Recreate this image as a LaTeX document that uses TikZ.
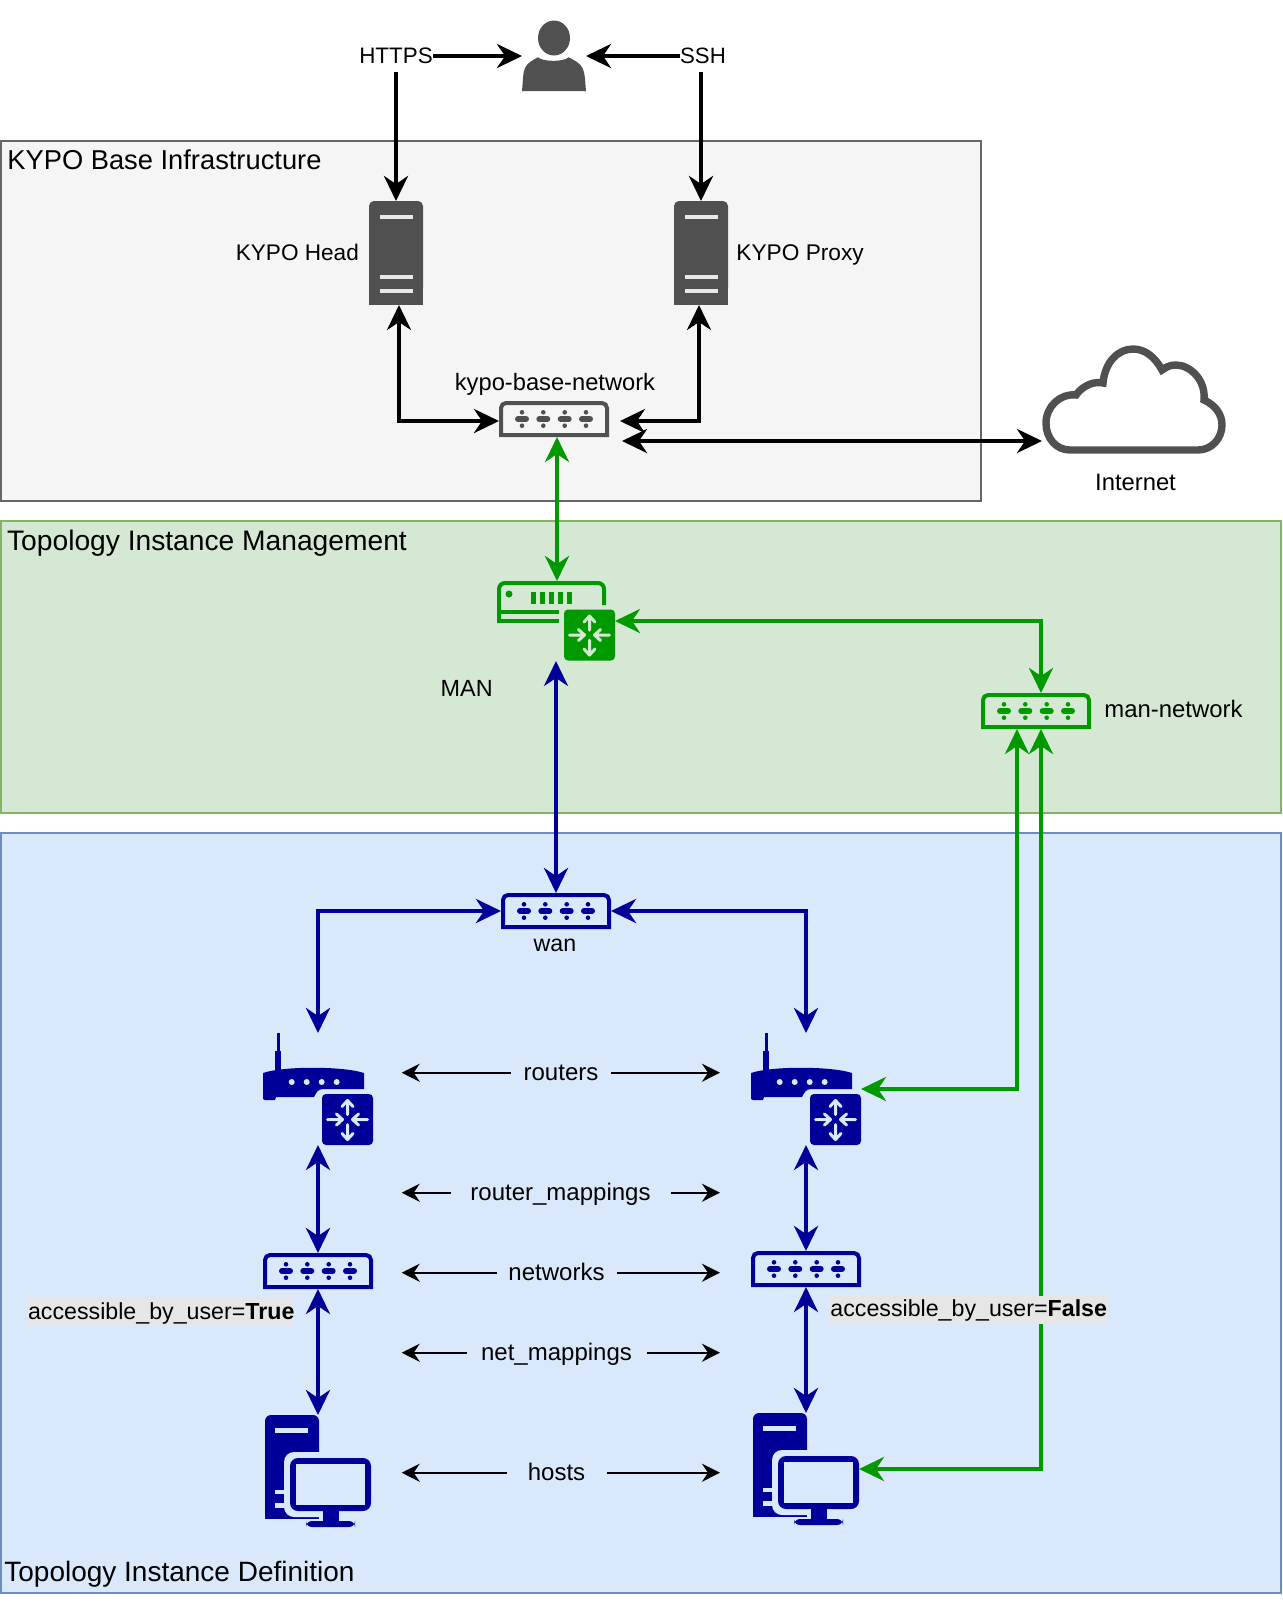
\documentclass[tikz,border=0pt]{standalone}
\usepackage{fontspec}
\setmainfont{Liberation Sans}
\usetikzlibrary{arrows.meta,calc}
\definecolor{iconGrey}{HTML}{505050}
\definecolor{iconGreen}{HTML}{009900}
\definecolor{iconBlue}{HTML}{000099}
\definecolor{baseFill}{HTML}{F5F5F5}
\definecolor{baseLine}{HTML}{666666}
\definecolor{manFill}{HTML}{D5E8D4}
\definecolor{manLine}{HTML}{82B366}
\definecolor{defFill}{HTML}{DAE8FC}
\definecolor{defLine}{HTML}{6C8EBF}
\definecolor{hiFill}{HTML}{E6E6E6}
\colorlet{iconbg}{baseFill}
\tikzset{
  x=0.5pt,y=-0.5pt,
  zone/.style={line width=1pt,draw=#1},
  iconbox/.style 2 args={inner sep=0pt,outer sep=0pt,minimum width=#1*0.5pt,minimum height=#2*0.5pt},
  lbl/.style={inner sep=0pt,font=\fontsize{#1}{14pt}\selectfont,text=black},
  lbl/.default=11.9pt,
  ttl/.style={inner sep=0pt,font=\fontsize{#1}{17pt}\selectfont,text=black,anchor=base west},
  midtext/.style={text height=7.3pt,text depth=0pt},
  gaplbl/.style={lbl=12pt,midtext,outer sep=0pt,minimum width=#1*0.5pt,minimum height=10pt},
  hi/.style={lbl=11.6pt,fill=hiFill,text height=10.5pt,text depth=3.5pt,anchor=base west},
  conn/.style={line width=2pt,draw=#1,{Stealth[length=12.5pt,width=12pt,inset=4pt]}-{Stealth[length=12.5pt,width=12pt,inset=4pt]}},
  conn1/.style={line width=2pt,draw=#1,-{Stealth[length=12.5pt,width=12pt,inset=4pt]}},
  thinarr/.style={line width=1pt,draw=black,-{Stealth[length=9pt,width=9pt,inset=3pt]}},
  pics/swic/.style={code={
    \draw[line width=2pt,#1] (-53,16) [rounded corners=2.5pt] -- (-53,-16) -- (53,-16) [sharp corners] -- (53,16) -- cycle;
    \foreach \mx in {-32,-10.7,10.7,32}{
      \draw[#1,line width=3pt,line cap=round] (\mx-4,0) -- (\mx+4,0);
      \fill[#1] (\mx,-6.7) circle[radius=2.3];
      \fill[#1] (\mx,6.7) circle[radius=2.3];
    }
  }},
  pics/sqic/.style={code={
    \fill[#1,rounded corners=2pt] (-25.5,-25.5) rectangle (25.5,25.5);
    \begin{scope}[iconbg,line width=1.5pt,line cap=round,line join=round]
      \draw (0,-5) -- (0,-19) (-5.5,-13) -- (0,-19) -- (5.5,-13);
      \draw (0,5) -- (0,20) (-5.5,14) -- (0,20) -- (5.5,14);
      \draw (-20,0) -- (-5,0) (-11,-5.5) -- (-5,0) -- (-11,5.5);
      \draw (20,0) -- (5,0) (11,-5.5) -- (5,0) -- (11,5.5);
    \end{scope}
  }},
}
\begin{document}
\begin{tikzpicture}
\useasboundingbox (0,0) rectangle (1282,1614);
\fill[white] (0,0) rectangle (1282,1614);
% zones
\node[zone=baseLine,fill=baseFill,iconbox={980}{360},anchor=north west] (zb) at (1,141) {};
\node[zone=manLine,fill=manFill,iconbox={1280}{292},anchor=north west] (zm) at (1,521) {};
\node[zone=defLine,fill=defFill,iconbox={1280}{760},anchor=north west] (zd) at (1,833) {};
\node[ttl=13.65pt] (tb) at (7,169.3) {KYPO Base Infrastructure};
\node[ttl=14.1pt] (tm) at (6.7,550) {Topology Instance Management};
\node[ttl=14pt] (td) at (4,1581.7) {Topology Instance Definition};
% anchors of icons
\node[iconbox={64}{70}] (user) at (554,56) {};
\node[iconbox={54}{104}] (hd) at (396,253) {};
\node[iconbox={54}{104}] (px) at (701,253) {};
\node[iconbox={110}{36}] (bsw) at (554,419) {};
\node[iconbox={184}{109}] (cld) at (1134,399.5) {};
\node[iconbox={118}{80}] (manrt) at (556,621) {};
\node[iconbox={110}{36}] (mansw) at (1036,711) {};
\node[iconbox={110}{36}] (wan) at (556,911) {};
\node[iconbox={110}{112}] (rt1) at (318,1089) {};
\node[iconbox={110}{112}] (rt2) at (806,1089) {};
\node[iconbox={110}{36}] (sw1) at (318,1271) {};
\node[iconbox={110}{36}] (sw2) at (806,1269) {};
\node[iconbox={106}{112}] (pc1) at (318,1471) {};
\node[iconbox={106}{112}] (pc2) at (806,1469) {};
% user
\fill[iconGrey] (554,38) ellipse[x radius=16,y radius=17.5];
\fill[iconGrey] (522,91) .. controls (523,80) and (523,72) .. (525,68) .. controls (527,63) and (533,60) .. (538,57.3) .. controls (543,62) and (564,62) .. (568.5,57.3) .. controls (574,60) and (580,63) .. (582.5,68) .. controls (585,73) and (585,80) .. (586,91) -- cycle;
% servers
\foreach \n in {hd,px}{
  \begin{scope}[shift={(\n)}]
    \fill[iconGrey,rounded corners=2.5pt] (-27,-52) rectangle (27,40);
    \fill[iconGrey] (-27,0) rectangle (27,52);
    \foreach \my in {-36.3,24.3,37.7} \fill[baseFill!92!iconGrey] (-16.5,\my-2) rectangle (16.5,\my+2);
  \end{scope}
}
% cloud
\draw[iconGrey,line width=3.7pt,miter limit=3] (1070,450) -- (1198,450) .. controls (1212,450) and (1222,438) .. (1222,425) .. controls (1222,414) and (1215,405) .. (1204,400) .. controls (1206,380) and (1190,365) .. (1176,365) .. controls (1170,365) and (1166,367) .. (1162,370) .. controls (1155,357) and (1145,349) .. (1133,349) .. controls (1118,349) and (1105,362) .. (1103,383) .. controls (1095,381) and (1083,385) .. (1076,395) .. controls (1060,393) and (1046,407) .. (1046,423) .. controls (1046,438) and (1056,450) .. (1070,450) -- cycle;
% switches
\pic at (bsw) {swic=iconGrey};
\pic at (mansw) {swic=iconGreen};
\pic at (wan) {swic=iconBlue};
\pic at (sw1) {swic=iconBlue};
\pic at (sw2) {swic=iconBlue};
% MAN router
\colorlet{iconbg}{manFill}
\draw[iconGreen,line width=2pt] (499,623) [rounded corners=3pt] -- (499,583) -- (604,583) [sharp corners] -- (604,605);
\draw[iconGreen,line width=2pt] (498,611.5) -- (559,611.5) (498,621) -- (559,621);
\fill[iconGreen] (509,594) circle[radius=3.5];
\foreach \vx in {533.3,542.3,551.3,560.3,569.3} \fill[iconGreen] (\vx-2.2,592) rectangle (\vx+2.2,604);
\pic at (589.5,635) {sqic=iconGreen};
% wifi routers and hosts
\colorlet{iconbg}{defFill}
\foreach \n in {rt1,rt2}{
  \begin{scope}[shift={(\n)}]
    \fill[iconBlue] (-55,-16) .. controls (-35,-23) and (25,-23) .. (46,-16) -- (46,0) -- (5,0) .. controls (0,0) and (-2,4) .. (-4,8) -- (-42,8) -- (-43,11) -- (-53,11) .. controls (-54.5,11) and (-55,10) .. (-55,9) -- cycle;
    \fill[iconBlue] (-43,-38) rectangle (-37,-19);
    \fill[iconBlue] (-41.5,-56) rectangle (-38.5,-36);
    \foreach \dx in {-26.3,-11.3,3.7,18.7} \fill[iconbg] (\dx,-7) circle[radius=3];
    \pic at (29.5,30.5) {sqic=iconBlue};
  \end{scope}
}
\foreach \n in {pc1,pc2}{
  \begin{scope}[shift={(\n)}]
    \fill[iconBlue,rounded corners=3pt] (-53,-56) rectangle (1,30);
    \fill[iconBlue] (-53,0) rectangle (1,48);
    \fill[iconbg,rounded corners=5pt] (-34,-19) rectangle (60,46);
    \fill[iconBlue,rounded corners=4pt] (-28,-13) rectangle (53,40);
    \fill[iconbg] (-22,-7) rectangle (47,34);
    \fill[iconbg] (-43,-43) rectangle (-10,-38);
    \fill[iconbg] (-43,18.5) rectangle (-30,23);
    \fill[iconbg] (-43,32) rectangle (-30,36.5);
    \fill[iconBlue] (4.7,38) rectangle (21.3,52);
    \fill[iconBlue,rounded corners=3pt] (-12,50) rectangle (37,56);
  \end{scope}
}
% connectors
\node[lbl=11.2pt,midtext,iconbox={74}{32}] (https) at (396,56) {HTTPS};
\node[lbl=11.1pt,midtext,iconbox={46}{32}] (ssh) at (703,56) {SSH};
\draw[conn1=black] (https) -- (user);
\draw[conn1=black] (ssh) -- (user);
\draw[conn1=black] (https) -- (hd);
\draw[conn1=black] ([xshift=-1pt]ssh.south) -- (px.north);
\draw[conn=black] ([xshift=1.5pt]hd.south) |- ([yshift=-1pt]bsw.west);
\draw[conn=black] ([xshift=-1pt]px.south) |- ([xshift=5.5pt,yshift=-1pt]bsw.east);
\draw[conn=black] ([xshift=6.5pt,yshift=-11pt]bsw.east) -- ([yshift=-20.75pt]cld.west);
\draw[conn=iconGreen] ([xshift=1.5pt]bsw.south) -- ([xshift=0.5pt]manrt.north);
\draw[conn=iconGreen] (manrt.east) -| ([xshift=2.5pt]mansw.north);
\draw[conn=iconGreen] ([xshift=-9.5pt]mansw.south) |- (rt2.east);
\draw[conn=iconGreen] ([xshift=2.5pt]mansw.south) |- (pc2.east);
\draw[conn=iconBlue] (manrt.south) -- (wan.north);
\draw[conn=iconBlue] (wan.west) -| (rt1.north);
\draw[conn=iconBlue] (wan.east) -| (rt2.north);
\draw[conn=iconBlue] (rt1.south) -- (sw1.north);
\draw[conn=iconBlue] (sw1.south) -- (pc1.north);
\draw[conn=iconBlue] (rt2.south) -- (sw2.north);
\draw[conn=iconBlue] (sw2.south) -- (pc2.north);
% side arrows
\node[gaplbl=100] (lr) at (561,1072.7) {routers};
\node[gaplbl=220] (lm) at (560.5,1192.7) {router\_mappings};
\node[gaplbl=120] (ln) at (556.5,1272.7) {networks};
\node[gaplbl=180] (lnm) at (556.5,1352.7) {net\_mappings};
\node[gaplbl=100] (lh) at (556.5,1472.7) {hosts};
\foreach \n/\yy in {lr/1072.7,lm/1192.7,ln/1272.7,lnm/1352.7,lh/1472.7}{
  \coordinate (\n l) at (401.7,\yy);
  \coordinate (\n r) at (720,\yy);
  \draw[thinarr] (\n.west) -- (\n l);
  \draw[thinarr] (\n.east) -- (\n r);
}
% labels
\node[lbl=11.3pt,anchor=base east] (tHead) at (359.3,260) {KYPO Head};
\node[lbl=11.35pt,anchor=base west] (tProxy) at (736,260) {KYPO Proxy};
\node[lbl=11.85pt,anchor=base] (tBase) at (555,390) {kypo-base-network};
\node[lbl,anchor=base] (tInet) at (1135.5,490) {Internet};
\node[lbl=11.7pt,anchor=base] (tMan) at (466.7,696) {MAN};
\node[lbl=11.95pt,anchor=base west] (tMansw) at (1104,717) {man-network};
\node[lbl=11.6pt,anchor=base] (tWan) at (555,951.7) {wan};
\node[hi] (tTrue) at (27.7,1319.3) {accessible\_by\_user=\textbf{True}};
\node[hi] (tFalse) at (830,1316.7) {accessible\_by\_user=\textbf{False}};
\end{tikzpicture}
\end{document}
